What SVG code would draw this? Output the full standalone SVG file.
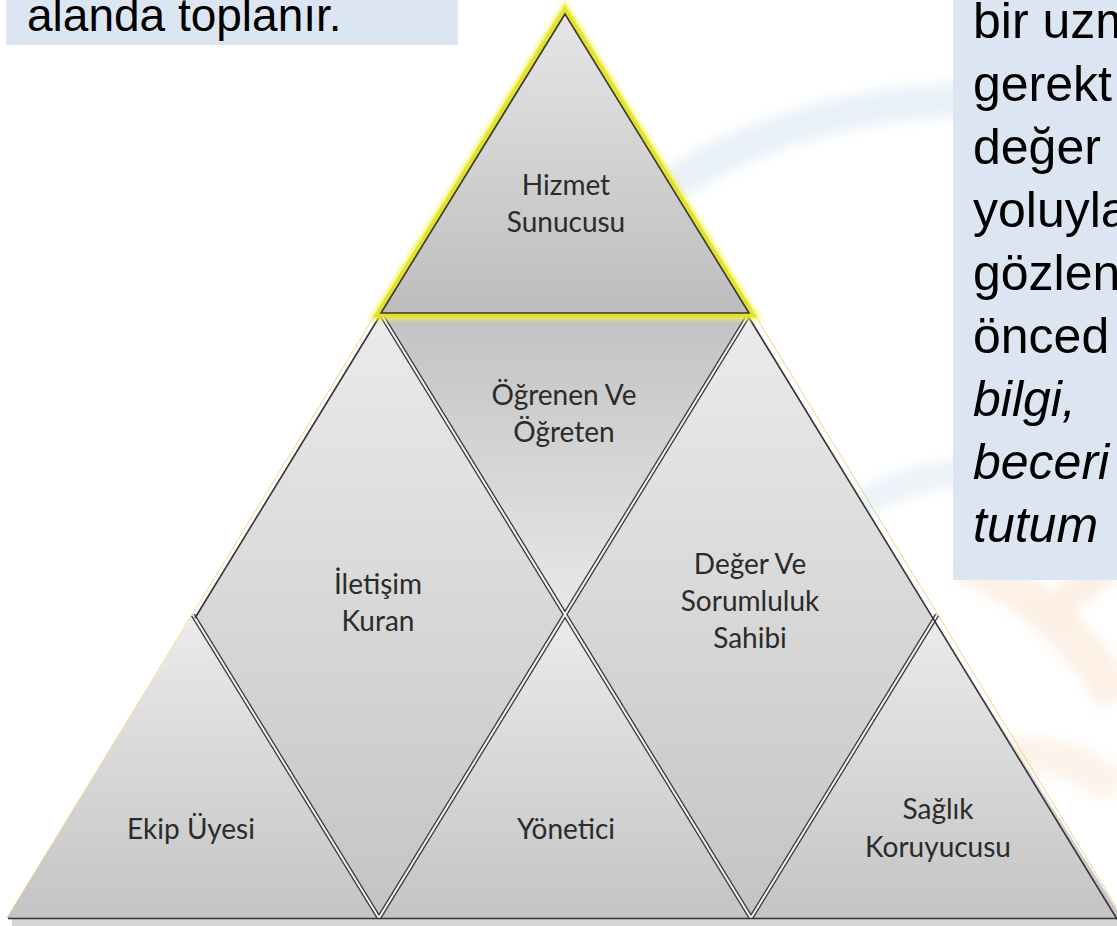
<svg xmlns="http://www.w3.org/2000/svg" width="1117" height="926" viewBox="0 0 1117 926">
<defs>
  <linearGradient id="gUp" x1="0" y1="0" x2="0" y2="1">
    <stop offset="0" stop-color="#ebebeb"/>
    <stop offset="1" stop-color="#c4c4c4"/>
  </linearGradient>
  <linearGradient id="gDown" x1="0" y1="0" x2="0" y2="1">
    <stop offset="0" stop-color="#c2c2c2"/>
    <stop offset="1" stop-color="#e8e8e8"/>
  </linearGradient>
  <linearGradient id="gTop" x1="0" y1="0" x2="0" y2="1">
    <stop offset="0" stop-color="#e6e6e6"/>
    <stop offset="1" stop-color="#bdbdbd"/>
  </linearGradient>
  <filter id="glow" x="-10%" y="-10%" width="120%" height="120%">
    <feGaussianBlur stdDeviation="2"/>
  </filter>
  <filter id="wm" x="-20%" y="-20%" width="140%" height="140%">
    <feGaussianBlur stdDeviation="6"/>
  </filter>
</defs>
<style>
  .lbl{font-family:Lato,"Open Sans","Liberation Sans",sans-serif;font-size:28px;fill:#2b2b2b;text-anchor:middle}
  .body{font-family:"Liberation Sans",Arial,sans-serif;font-size:46px;fill:#000}
  .rt{font-size:50px}
  .it{font-style:italic}
  .box{fill:#dce6f2}
  .sepd{stroke:#3a3a3a;stroke-width:4.6;fill:none}
  .sepl{stroke:#f4f4f4;stroke-width:2;fill:none}
  .edge{stroke:#333;stroke-width:1.6;fill:none}
  .outline{stroke:#f0c060;stroke-width:0.9;fill:none;opacity:0.8}
</style>
<rect width="1117" height="926" fill="#fff"/>

<g id="watermark" opacity="0.45" filter="url(#wm)">
  <path d="M 630 215 Q 780 95 1000 100" stroke="#cfe0f0" stroke-width="34" fill="none" stroke-linecap="round"/>
  <path d="M 840 520 Q 900 470 1000 470" stroke="#d6e4f2" stroke-width="28" fill="none" stroke-linecap="round"/>
  <path d="M 960 560 Q 1060 600 1117 700" stroke="#fbe0c8" stroke-width="40" fill="none"/>
  <path d="M 980 760 Q 1060 740 1117 790" stroke="#fbe4d0" stroke-width="36" fill="none"/>
  <path d="M 1040 620 L 1117 560" stroke="#f8dcc4" stroke-width="30" fill="none"/>
</g>

<g id="box-left">
  <rect class="box" x="6" y="-1" width="452" height="46"/>
  <text class="body" x="27" y="31">alanda toplanır.</text>
</g>
<g id="box-right">
  <rect class="box" x="953" y="-1" width="170" height="581"/>
  <text class="body rt" x="973" y="38">bir uzm</text>
  <text class="body rt" x="973" y="101">gerekt</text>
  <text class="body rt" x="973" y="164">değer</text>
  <text class="body rt" x="973" y="227">yoluyla</text>
  <text class="body rt" x="973" y="290">gözlen</text>
  <text class="body rt" x="973" y="353">önced</text>
  <text class="body rt it" x="973" y="416">bilgi,</text>
  <text class="body rt it" x="973" y="479">beceri</text>
  <text class="body rt it" x="973" y="542">tutum</text>
</g>

<rect x="12" y="919" width="1105" height="7" fill="#d6d6d6"/>

<g id="ogrenen">
  <polygon points="379,311 751,311 565,615" fill="url(#gDown)"/>
  <text class="lbl" x="564" y="405">Öğrenen Ve</text>
  <text class="lbl" x="564" y="442">Öğreten</text>
</g>
<g id="iletisim">
  <polygon points="381,314 195,618 379,918 565,615" fill="url(#gUp)"/>
  <text class="lbl" x="378" y="594">İletişim</text>
  <text class="lbl" x="378" y="631">Kuran</text>
</g>
<g id="deger">
  <polygon points="748,316 565,615 751,918 934,620" fill="url(#gUp)"/>
  <text class="lbl" x="750" y="574">Değer Ve</text>
  <text class="lbl" x="750" y="611">Sorumluluk</text>
  <text class="lbl" x="750" y="648">Sahibi</text>
</g>
<g id="ekip">
  <polygon points="193,615 7,918 379,918" fill="url(#gUp)"/>
  <text class="lbl" x="191" y="839">Ekip Üyesi</text>
</g>
<g id="yonetici">
  <polygon points="565,615 379,918 751,918" fill="url(#gUp)"/>
  <text class="lbl" x="566" y="839">Yönetici</text>
</g>
<g id="saglik">
  <polygon points="934,620 751,918 1117,918 1117,910" fill="url(#gUp)"/>
  <text class="lbl" x="938" y="819">Sağlık</text>
  <text class="lbl" x="938" y="857">Koruyucusu</text>
</g>

<g id="connectors">
  <line class="outline" x1="565" y1="4" x2="7" y2="918"/>
  <line class="outline" x1="565" y1="4" x2="1123" y2="918"/>
  <line class="sepd" x1="379" y1="311" x2="751" y2="918"/>
  <line class="sepd" x1="751" y1="311" x2="379" y2="918"/>
  <line class="sepd" x1="193" y1="615" x2="379" y2="918"/>
  <line class="sepd" x1="937" y1="615" x2="751" y2="918"/>
  <line class="sepl" x1="379" y1="311" x2="751" y2="918"/>
  <line class="sepl" x1="751" y1="311" x2="379" y2="918"/>
  <line class="sepl" x1="193" y1="615" x2="379" y2="918"/>
  <line class="sepl" x1="937" y1="615" x2="751" y2="918"/>
  <line class="edge" x1="381" y1="314" x2="195" y2="618"/>
  <line class="edge" x1="748" y1="316" x2="1117" y2="919"/>
  <line class="edge" x1="8" y1="918.5" x2="1117" y2="918.5" stroke-width="2"/>
</g>

<g id="hizmet">
  <polygon points="565,14 381,313 749,313" fill="none" stroke="#f2f24a" stroke-width="14" stroke-linejoin="miter" filter="url(#glow)" opacity="0.8"/>
  <polygon points="565,14 381,313 749,313" fill="none" stroke="#e2e22c" stroke-width="9" stroke-linejoin="miter"/>
  <polygon points="565,14 381,313 749,313" fill="url(#gTop)" stroke="#3a3a2a" stroke-width="1.6" stroke-linejoin="miter"/>
  <text class="lbl" x="566" y="195">Hizmet</text>
  <text class="lbl" x="566" y="232">Sunucusu</text>
</g>
</svg>
